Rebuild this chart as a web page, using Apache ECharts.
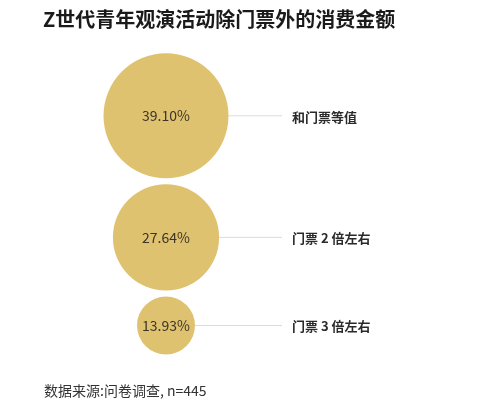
<!DOCTYPE html>
<html>
<head>
<meta charset="utf-8">
<script src="https://cdn.jsdelivr.net/npm/echarts@6/dist/echarts.min.js"></script>
<style>
html,body{margin:0;padding:0;background:#fff;}
#main{width:500px;height:413px;}
</style>
</head>
<body>
<div id="main"></div>
<script>
const titleText = 'Z世代青年观演活动除门票外的消费金额';
const sourceText = '数据来源:问卷调查, n=445';
const categories = ['和门票等值', '门票 2 倍左右', '门票 3 倍左右'];
const shares = [39.10, 27.64, 13.93];

const FONT = '"Noto Sans CJK SC", "Noto Sans", sans-serif';
const GOLD = '#DFC26F';
const CX = 166;          // bubble column centre (px)
const LINE_END = 282;    // connector end (px)
const LABEL_X = 292;     // category label start (px)
const TOP = 53.3;        // top of first bubble
const GAP = 6;           // gap between stacked bubbles

function diameter(v) { return 224.2 - 620.4 / Math.sqrt(v); }

// stack bubbles vertically based on their sizes
const points = [];
let y = TOP;
shares.forEach((v, i) => {
  const d = diameter(v);
  points.push({ value: [CX, y + d / 2, v], name: categories[i], d: d });
  y += d + GAP;
});

const chart = echarts.init(document.getElementById('main'));
chart.setOption({
  backgroundColor: '#fff',
  animation: false,
  textStyle: { fontFamily: FONT },
  title: {
    text: titleText,
    left: 38,
    top: 4,
    textStyle: { fontFamily: FONT, fontSize: 20, fontWeight: 'bold', color: '#1a1a1a' }
  },
  graphic: [{
    type: 'text',
    left: 44,
    top: 384,
    style: { text: sourceText, font: '14px ' + FONT, fill: '#333' }
  }],
  grid: { left: 0, right: 0, top: 0, bottom: 0 },
  xAxis: { type: 'value', min: 0, max: 500, show: false },
  yAxis: { type: 'value', min: 0, max: 413, inverse: true, show: false },
  series: [
    {
      type: 'custom',
      z: 1,
      data: points.map(p => ({ value: p.value, name: p.name, d: p.d })),
      renderItem: function (params, api) {
        const p = points[params.dataIndex];
        const c = api.coord([p.value[0], p.value[1]]);
        const end = api.coord([LINE_END, p.value[1]]);
        const lx = api.coord([LABEL_X, p.value[1]]);
        return {
          type: 'group',
          children: [
            {
              type: 'line',
              shape: { x1: c[0] + p.d / 2, y1: c[1], x2: end[0], y2: c[1] },
              style: { stroke: '#dcdcdc', lineWidth: 1 }
            },
            {
              type: 'text',
              style: {
                x: lx[0], y: c[1] + 1,
                text: p.name,
                font: 'bold 13px ' + FONT,
                fill: '#2a2a2a',
                textVerticalAlign: 'middle',
                textAlign: 'left'
              }
            }
          ]
        };
      }
    },
    {
      type: 'scatter',
      z: 2,
      data: points.map(p => p.value),
      symbol: 'circle',
      symbolSize: function (val) { return diameter(val[2]); },
      itemStyle: { color: GOLD, opacity: 1 },
      label: {
        show: true,
        position: 'inside',
        formatter: function (p) { return p.value[2].toFixed(2) + '%'; },
        fontFamily: FONT,
        fontSize: 14,
        color: '#3d3428'
      },
      emphasis: { disabled: true }
    }
  ]
});
</script>
</body>
</html>
